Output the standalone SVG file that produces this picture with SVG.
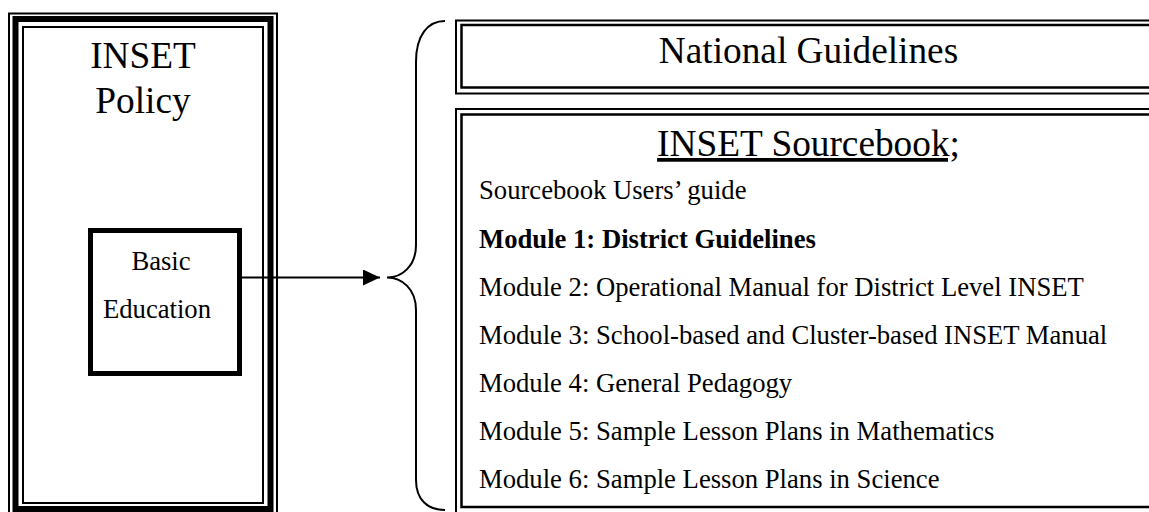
<svg xmlns="http://www.w3.org/2000/svg" width="1149" height="512" viewBox="0 0 1149 512">
<defs>
<style>
.t{font-family:"Liberation Serif","Times New Roman",serif;fill:#000}
.big{font-size:37.3px}
.sm{font-size:26.67px}
.ln{fill:none;stroke:#000}
</style>
<marker id="ah" markerWidth="18" markerHeight="16" refX="17" refY="8" orient="auto" markerUnits="userSpaceOnUse">
<path d="M0,0 L17,8 L0,16 Z" fill="#000"/>
</marker>
</defs>
<rect width="1149" height="512" fill="#fff"/>
<g id="policy">
<rect class="ln" x="9" y="13.5" width="268" height="510" stroke-width="2"/>
<rect class="ln" x="15.5" y="19" width="255" height="490" stroke-width="6"/>
<rect class="ln" x="23" y="27" width="240" height="476" stroke-width="2"/>
<text class="t big" x="143" y="68" text-anchor="middle">INSET</text>
<text class="t big" x="143" y="113" text-anchor="middle">Policy</text>
</g>
<g id="basic">
<rect class="ln" x="90.5" y="230.5" width="149" height="143" stroke-width="5"/>
<text class="t sm" x="161" y="270" text-anchor="middle">Basic</text>
<text class="t sm" x="157" y="318" text-anchor="middle">Education</text>
</g>
<g id="connectors">
<line class="ln" x1="242" y1="277.5" x2="380" y2="277.5" stroke-width="2" marker-end="url(#ah)"/>
<path class="ln" stroke-width="2" d="M445,21 C428,21 416,35 416,62 L416,245 C416,266 402,277.5 387,277.5 C402,277.5 416,289 416,310 L416,480 C416,500 428,510 445,510"/>
</g>
<g id="national">
<rect class="ln" x="456" y="20.5" width="720" height="73" stroke-width="2"/>
<rect class="ln" x="461.5" y="25" width="720" height="62.5" stroke-width="2.5"/>
<text class="t big" x="808.5" y="63" text-anchor="middle">National Guidelines</text>
</g>
<g id="sourcebook">
<rect class="ln" x="456" y="109" width="720" height="420" stroke-width="2"/>
<rect class="ln" x="461.5" y="114.5" width="720" height="392.5" stroke-width="2.5"/>
<text class="t big" x="808.5" y="156" text-anchor="middle" text-decoration="underline">INSET Sourcebook;</text>
<text class="t sm" x="479" y="199">Sourcebook Users’ guide</text>
<text class="t sm" x="479" y="247.5" font-weight="bold">Module 1: District Guidelines</text>
<text class="t sm" x="479" y="295.5">Module 2: Operational Manual for District Level INSET</text>
<text class="t sm" x="479" y="343.5">Module 3: School-based and Cluster-based INSET Manual</text>
<text class="t sm" x="479" y="392">Module 4: General Pedagogy</text>
<text class="t sm" x="479" y="440">Module 5: Sample Lesson Plans in Mathematics</text>
<text class="t sm" x="479" y="488">Module 6: Sample Lesson Plans in Science</text>
</g>
</svg>
